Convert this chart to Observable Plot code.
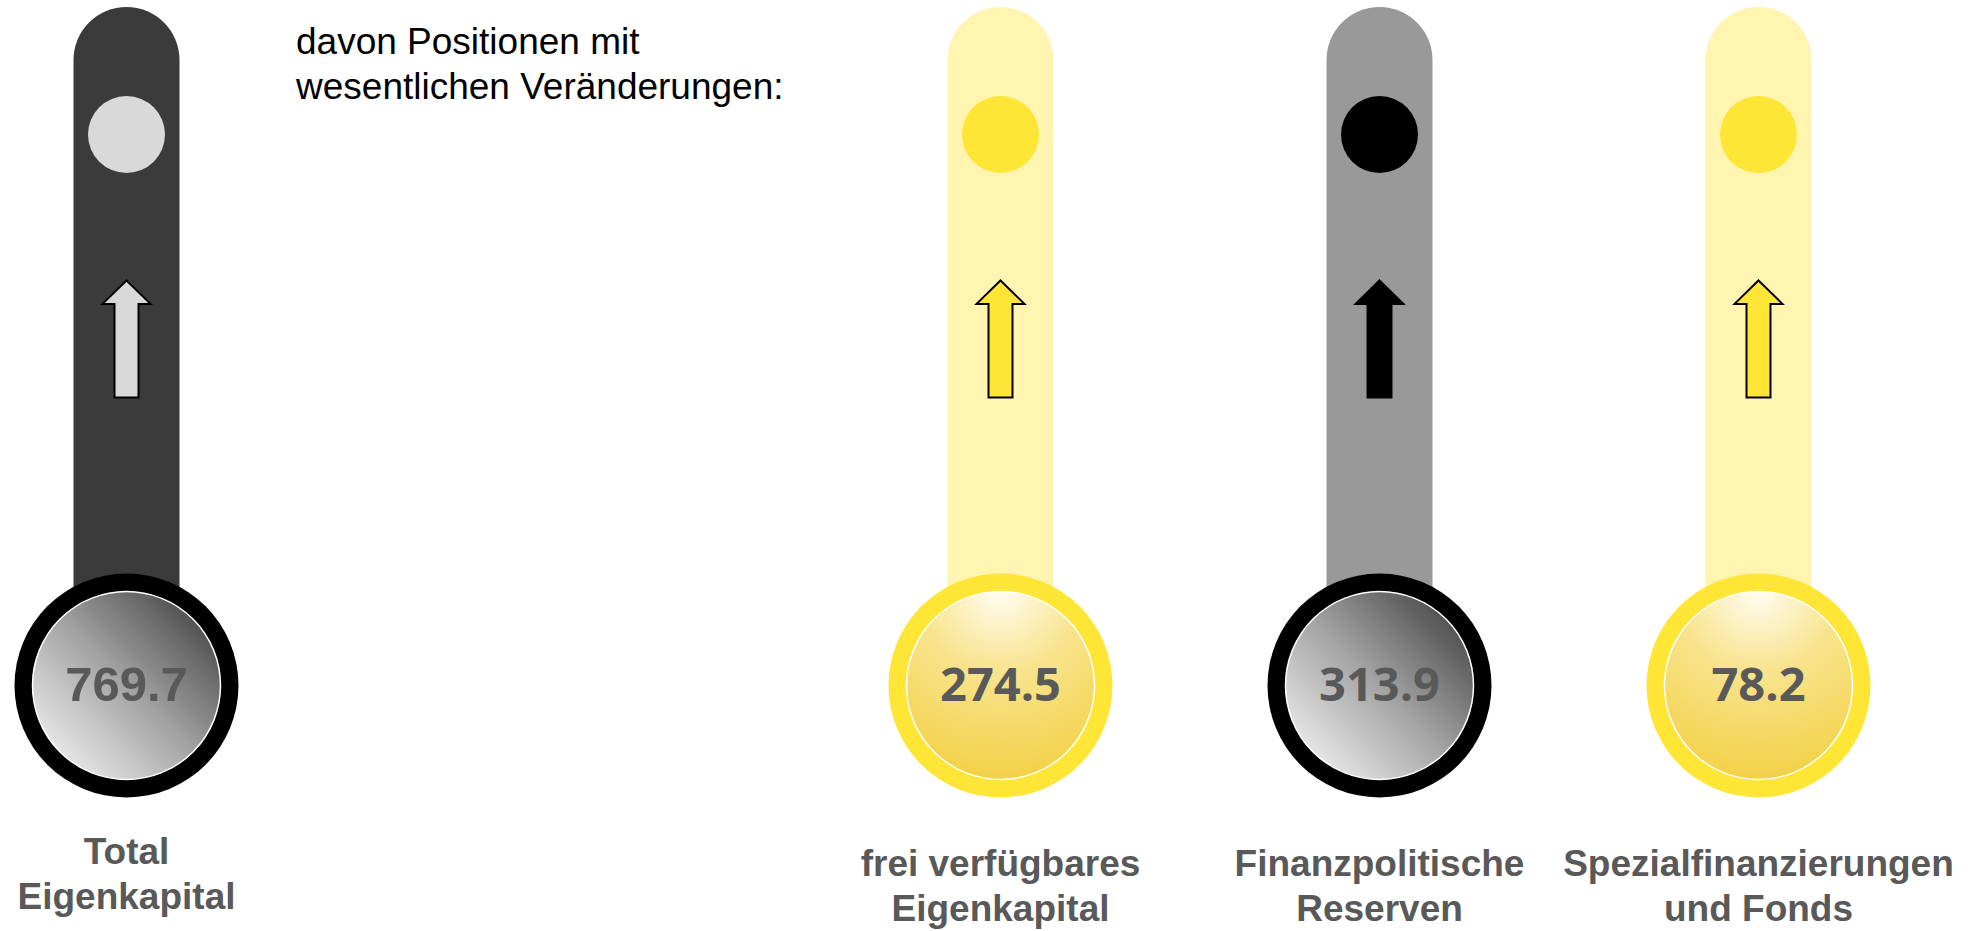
<!DOCTYPE html>
<html><head><meta charset="utf-8">
<script src="https://cdn.jsdelivr.net/npm/d3@7"></script>
<script src="https://cdn.jsdelivr.net/npm/@observablehq/plot@0.6"></script>
<style>
html,body{margin:0;padding:0;background:#fff;}
#wrap{position:relative;width:1972px;height:931px;overflow:hidden;background:#fff;}
#title{position:absolute;left:296px;top:19px;font-family:"Liberation Sans",Arial,sans-serif;font-size:37px;line-height:45px;color:#000;white-space:nowrap;}
.panel{position:absolute;top:0;}
</style></head><body>
<div id="wrap">
<svg width="0" height="0" style="position:absolute">
  <defs>
    <linearGradient id="faceGrey" x1="100%" y1="0%" x2="0%" y2="100%">
      <stop offset="0" stop-color="#333333"/>
      <stop offset="0.5" stop-color="#a3a3a3"/>
      <stop offset="1" stop-color="#ffffff"/>
    </linearGradient>
    <radialGradient id="faceYellow" cx="50%" cy="0%" r="100%" fx="50%" fy="0%">
      <stop offset="0" stop-color="#fffdf2"/>
      <stop offset="0.42" stop-color="#f8e48f"/>
      <stop offset="1" stop-color="#f3d147"/>
    </radialGradient>
  </defs>
</svg>
<div id="title">davon Positionen mit<br>wesentlichen Veränderungen:</div>
<div id="left" class="panel" style="left:0px"></div>
<div id="right" class="panel" style="left:810px"></div>
</div>
<script>
// ---- data ----
const categories = ["Total Eigenkapital", "frei verfügbares Eigenkapital", "Finanzpolitische Reserven", "Spezialfinanzierungen und Fonds"];
const labelLines = [["Total", "Eigenkapital"], ["frei verfügbares", "Eigenkapital"], ["Finanzpolitische", "Reserven"], ["Spezialfinanzierungen", "und Fonds"]];
const values = [769.7, 274.5, 313.9, 78.2];
const trends = ["up", "up", "up", "up"];
const kinds = ["dunkel", "gelb", "grau", "gelb"];
const groups = ["total", "davon", "davon", "davon"];

// ---- styles ----
const palette = {
  dunkel: {tube: "#3b3b3b", dot: "#d9d9d9", arrow: "#d9d9d9", ring: "#000000", face: "url(#faceGrey)"},
  gelb:   {tube: "#fff4b0", dot: "#ffe535", arrow: "#ffe535", ring: "#ffe535", face: "url(#faceYellow)"},
  grau:   {tube: "#999999", dot: "#000000", arrow: "#000000", ring: "#000000", face: "url(#faceGrey)"}
};
const L = {H: 931, tubeTop: 60, tubeBottom: 640, tubeW: 106, dotY: 134, dotR: 38.5,
           arrowY: 338.5, arrowR: 58.5, coinY: 685, ringR: 112, faceR: 94};

const rows = categories.map((c, i) => ({category: c, label: labelLines[i].join("\n"), value: values[i],
  trend: trends[i], kind: kinds[i], group: groups[i]}));

function arrowSymbol(dir) {
  return {draw(ctx, size) {
    const r = Math.sqrt(size / Math.PI), s = dir === "up" ? 1 : -1;
    const pts = [[0, -r], [0.41 * r, -0.6 * r], [0.205 * r, -0.6 * r], [0.205 * r, r], [-0.205 * r, r], [-0.205 * r, -0.6 * r], [-0.41 * r, -0.6 * r]];
    pts.forEach(([x, y], k) => k ? ctx.lineTo(x, y * s) : ctx.moveTo(x, y * s));
    ctx.closePath();
  }};
}

function panel(data, width, rangeW, valueFont, valueSize, labelY) {
  return Plot.plot({
    width, height: L.H, margin: 0,
    style: {background: "transparent", overflow: "visible"},
    x: {type: "point", domain: data.map(d => d.category), range: [0, rangeW], padding: 0.5, axis: null},
    y: {domain: [0, L.H], range: [0, L.H], axis: null},
    color: {type: "identity"},
    marks: [
      Plot.ruleX(data, {x: "category", y1: L.tubeTop, y2: L.tubeBottom, stroke: d => palette[d.kind].tube,
        strokeWidth: L.tubeW, strokeLinecap: "round"}),
      Plot.dot(data, {x: "category", y: L.dotY, r: L.dotR, fill: d => palette[d.kind].dot, stroke: null}),
      Plot.dot(data.filter(d => d.trend === "up"), {x: "category", y: L.arrowY, r: L.arrowR, symbol: arrowSymbol("up"),
        fill: d => palette[d.kind].arrow, stroke: "#000", strokeWidth: 2}),
      Plot.dot(data.filter(d => d.trend === "down"), {x: "category", y: L.arrowY, r: L.arrowR, symbol: arrowSymbol("down"),
        fill: d => palette[d.kind].arrow, stroke: "#000", strokeWidth: 2}),
      Plot.dot(data, {x: "category", y: L.coinY, r: L.ringR, fill: d => palette[d.kind].ring, stroke: null}),
      Plot.dot(data, {x: "category", y: L.coinY, r: L.faceR, fill: d => palette[d.kind].face, stroke: "#ffffff", strokeWidth: 1.5}),
      Plot.text(data, {x: "category", y: L.coinY, text: d => d.value.toFixed(1), fontSize: valueSize, fontWeight: "bold",
        fontFamily: valueFont, fill: "#595959", lineAnchor: "middle"}),
      Plot.text(data, {x: "category", y: labelY, text: "label", fontSize: 37, fontWeight: "bold", lineHeight: 1.23,
        fontFamily: "'Liberation Sans', Arial, sans-serif", fill: "#595959", lineAnchor: "top"})
    ]
  });
}

document.getElementById("left").append(
  panel(rows.filter(d => d.group === "total"), 252, 252, "'Liberation Sans', Arial, sans-serif", 49, 831));
document.getElementById("right").append(
  panel(rows.filter(d => d.group === "davon"), 1162, 1138, "'Open Sans', sans-serif", 47, 843));
</script>
</body></html>
